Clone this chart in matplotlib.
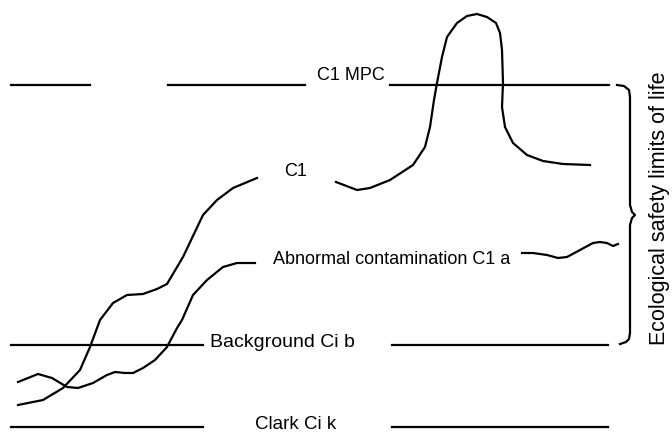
import matplotlib.pyplot as plt

plt.rcParams['font.family'] = ['Liberation Sans', 'DejaVu Sans']

# horizontal reference levels (y) and their drawn pieces (x start, x end)
mpc_y = 85
mpc_segments = [(11, 90), (168, 305), (390, 609)]
background_y = 345
background_segments = [(11, 203), (392, 608)]
clark_y = 427
clark_segments = [(11, 203), (392, 608)]

# C1 curve, rising part (left) and peak part (right)
c1_left_x = [18, 43, 63, 80, 90, 100, 113, 127, 143, 157, 167, 183, 203, 217, 233, 257]
c1_left_y = [405, 400, 388, 370, 347, 320, 303, 295, 294, 289, 284, 257, 215, 200, 188, 178]
c1_peak_x = [336, 357, 370, 390, 413, 425, 430, 434, 437, 442, 447, 457, 467, 477, 487,
             496, 500, 502, 503, 502, 505, 513, 527, 543, 563, 590]
c1_peak_y = [182, 190, 188, 180, 165, 147, 127, 100, 83, 57, 37, 23, 16, 14, 17,
             23, 33, 50, 83, 107, 127, 143, 155, 161, 164, 165]

# abnormal contamination curve C1 a
a_left_x = [18, 38, 52, 67, 78, 93, 107, 115, 125, 133, 143, 155, 167, 177, 182,
            193, 207, 223, 237, 255]
a_left_y = [382, 374, 378, 387, 388, 383, 375, 372, 373, 373, 368, 360, 347, 328, 320,
            295, 280, 267, 263, 263]
a_right_x = [522, 533, 547, 558, 567, 580, 593, 600, 607, 613, 618]
a_right_y = [253, 253, 255, 258, 257, 250, 243, 242, 243, 246, 244]

# brace on the right
brace_x = [617, 624, 629, 630, 630, 632, 635, 632, 630, 630, 629, 626, 620]
brace_y = [85, 86, 90, 97, 205, 212, 215, 218, 225, 333, 339, 342, 344]

fig = plt.figure(figsize=(6.72, 4.32), dpi=100)
ax = fig.add_axes([0, 0, 1, 1])
ax.set_xlim(0, 672)
ax.set_ylim(432, 0)
ax.axis('off')

lw = 1.6
for level, segs in [(mpc_y, mpc_segments), (background_y, background_segments),
                    (clark_y, clark_segments)]:
    for x0, x1 in segs:
        ax.plot([x0, x1], [level, level], color='black', lw=lw)

ax.plot(c1_left_x, c1_left_y, color='black', lw=lw)
ax.plot(c1_peak_x, c1_peak_y, color='black', lw=lw)
ax.plot(a_left_x, a_left_y, color='black', lw=lw)
ax.plot(a_right_x, a_right_y, color='black', lw=lw)
ax.plot(brace_x, brace_y, color='black', lw=lw)

fs = 13
ax.text(351, 80, "C1 MPC", fontsize=fs, ha='center', va='baseline')
ax.text(296, 176, "C1", fontsize=fs, ha='center', va='baseline')
ax.text(273, 264, "Abnormal contamination C1 a", fontsize=fs, ha='left', va='baseline')
ax.text(210, 347, "Background Ci b", fontsize=14, ha='left', va='baseline')
ax.text(296, 429, "Clark Ci k", fontsize=13.5, ha='center', va='baseline')
ax.text(660, 208, "Ecological safety limits of life", fontsize=15.5, rotation=90,
        ha='center', va='center')

fig.savefig('out.png', dpi=100)
